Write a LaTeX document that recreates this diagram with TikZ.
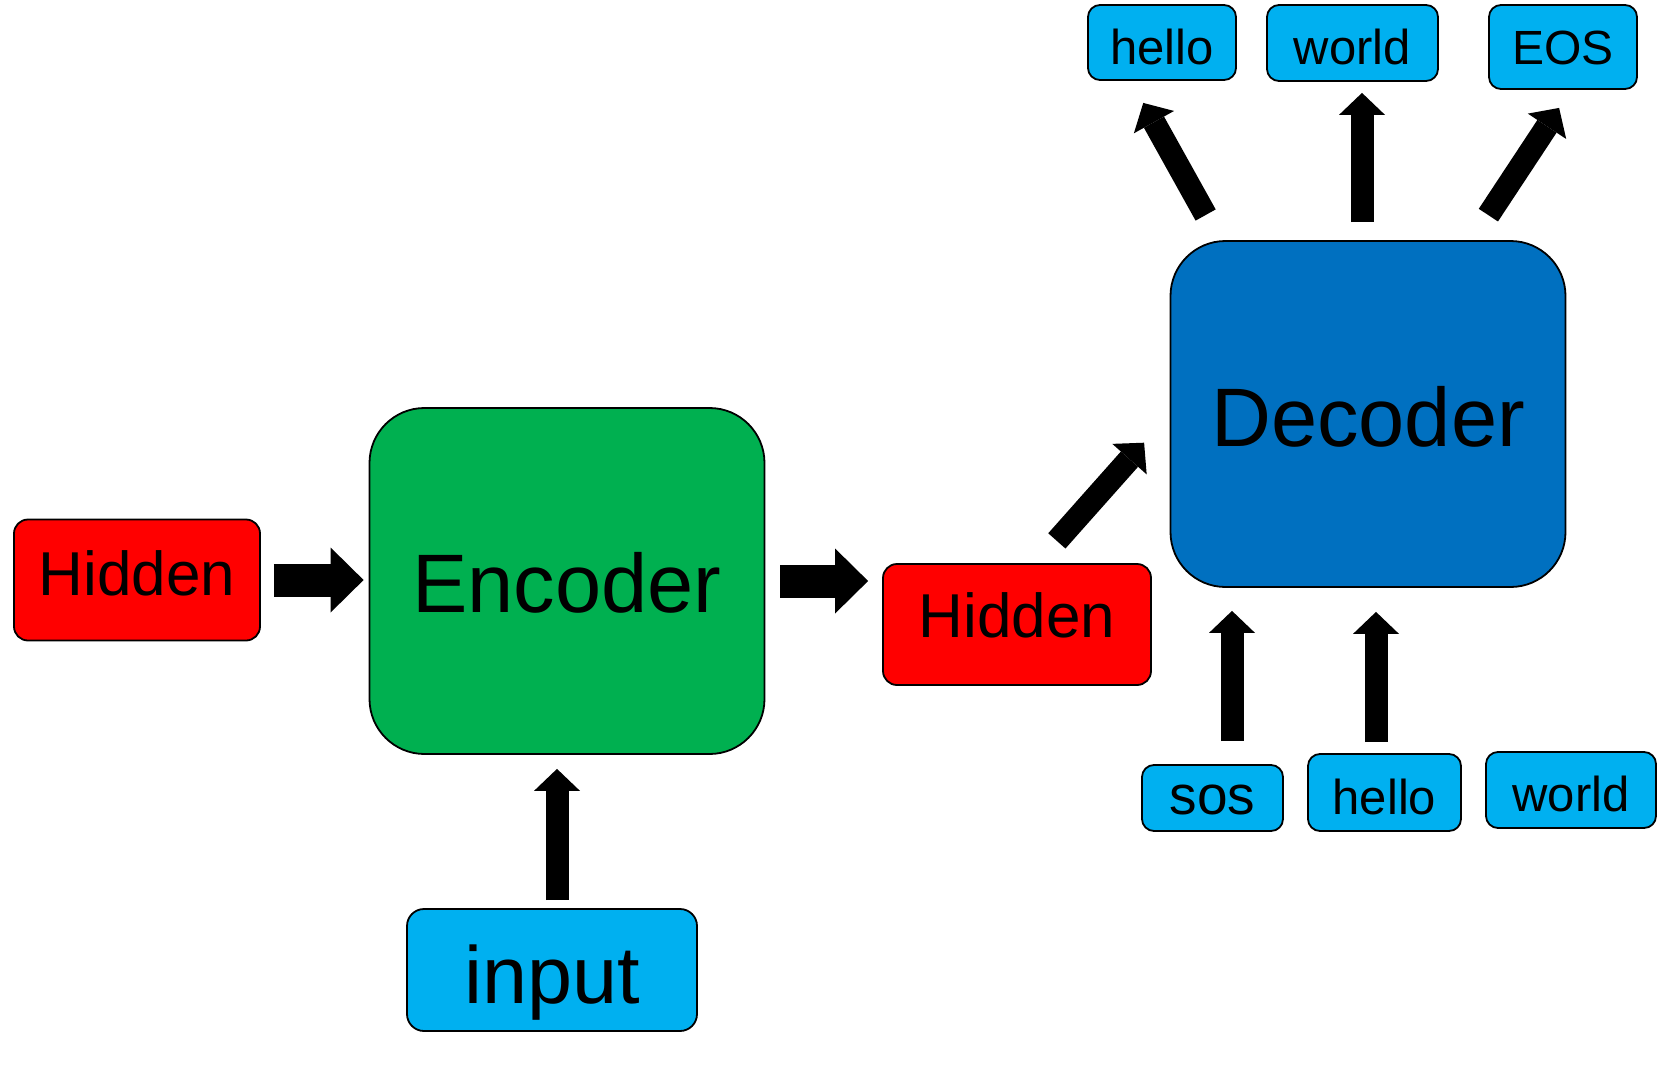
\documentclass[tikz,border=0pt]{standalone}
\usepackage{fontspec}
\setmainfont{Liberation Sans}
\usetikzlibrary{arrows.meta}
\definecolor{hidred}{HTML}{FF0000}
\definecolor{encgreen}{HTML}{00B050}
\definecolor{decblue}{HTML}{0070C0}
\definecolor{tokblue}{HTML}{00B0F0}
\begin{document}
\begin{tikzpicture}[x=1pt,y=-1pt,
  box/.style={draw=black, line width=1.8pt, inner sep=0pt, text=black},
  % baseline sits #1/2 below the node centre
  baseline at/.style={text height=#1, text depth=0pt},
  hidbox/.style={box, fill=hidred, rounded corners=14pt, minimum height=121pt,
                 font=\fontsize{62}{62}\selectfont},
  bigbox/.style={box, rounded corners=55pt, minimum width=395pt, minimum height=346pt,
                 font=\fontsize{83}{83}\selectfont},
  tokbox/.style={box, fill=tokblue, rounded corners=12pt,
                 font=\fontsize{49}{49}\selectfont},
  bigarrow/.style={line width=33pt,
    -{Triangle[length=33pt 0 0, width=65pt 0 0, line width=0pt 0 0]}},
  fatarrow/.style={line width=23pt,
    -{Triangle[length=22pt 0 0, width=46pt 0 0, line width=0pt 0 0]}}
]
\fill[white] (0,0) rectangle (1658,1073);
\useasboundingbox (0,0) rectangle (1658,1073);

% encoder side
\node[hidbox, minimum width=246pt, baseline at=30pt] (hidL) at (137,580) {Hidden};
\node[bigbox, fill=encgreen, baseline at=63.4pt] (enc) at (567,581) {Encoder};
\node[tokbox, rounded corners=17pt, minimum width=290pt, minimum height=122pt,
      font=\fontsize{81}{81}\selectfont, baseline at=66pt] (inp) at (552,970) {input};
\node[hidbox, minimum width=268pt, baseline at=25.6pt] (hidR) at (1017,624.5) {Hidden};

% decoder side
\node[bigbox, fill=decblue, baseline at=65.4pt] (dec) at (1368,414) {Decoder};

% output tokens
\node[tokbox, minimum width=148pt, minimum height=75pt, baseline at=45pt]
      (oHello) at (1162,42.5) {hello};
\node[tokbox, minimum width=171pt, minimum height=76pt, baseline at=44pt]
      (oWorld) at (1352.5,43) {world};
\node[tokbox, minimum width=148pt, minimum height=84pt, font=\fontsize{48}{48}\selectfont,
      baseline at=36pt] (oEOS) at (1563,47) {EOS};

% input tokens
\node[tokbox, minimum width=141pt, minimum height=66pt, font=\fontsize{55}{55}\selectfont,
      baseline at=32.4pt] (iSos) at (1212.5,798) {sos};
\node[tokbox, minimum width=153pt, minimum height=77pt, baseline at=43.4pt]
      (iHello) at (1384.5,792.5) {hello};
\node[tokbox, minimum width=170pt, minimum height=76pt, baseline at=42.4pt]
      (iWorld) at (1571,790) {world};

% connectors
\draw[bigarrow, shorten <=13pt, shorten >=5pt] (hidL.east) -- (hidL.east -| enc.west);
\draw[bigarrow, shorten <=15pt, shorten >=14pt] (enc.east) -- (enc.east -| hidR.west);
\draw[fatarrow, shorten <=29.7pt, shorten >=38.4pt] ([xshift=155pt]hidR.north west) -- (dec.west);

\coordinate (inpTop) at ([xshift=5pt]inp.north);
\draw[fatarrow, shorten <=8pt, shorten >=14pt] (inpTop) -- (inpTop |- enc.south);

\coordinate (sosTop) at ([xshift=19.5pt]iSos.north);
\draw[fatarrow, shorten <=23pt, shorten >=23pt] (sosTop) -- (sosTop |- dec.south);
\coordinate (helloTop) at ([xshift=-8.5pt]iHello.north);
\draw[fatarrow, shorten <=11pt, shorten >=24pt] (helloTop) -- (helloTop |- dec.south);

\coordinate (decTop) at ([xshift=-6pt]dec.north);
\draw[fatarrow, shorten <=18pt, shorten >=11pt] (decTop) -- (decTop |- oWorld.south);
\draw[fatarrow, shorten <=28.7pt, shorten >=25.2pt] ([xshift=50pt]dec.north west) -- ([xshift=-31pt]oHello.south);
\draw[fatarrow, shorten <=29.9pt, shorten >=21.6pt] ([xshift=-94.5pt]dec.north east) -- ([xshift=8pt]oEOS.south);
\end{tikzpicture}
\end{document}
